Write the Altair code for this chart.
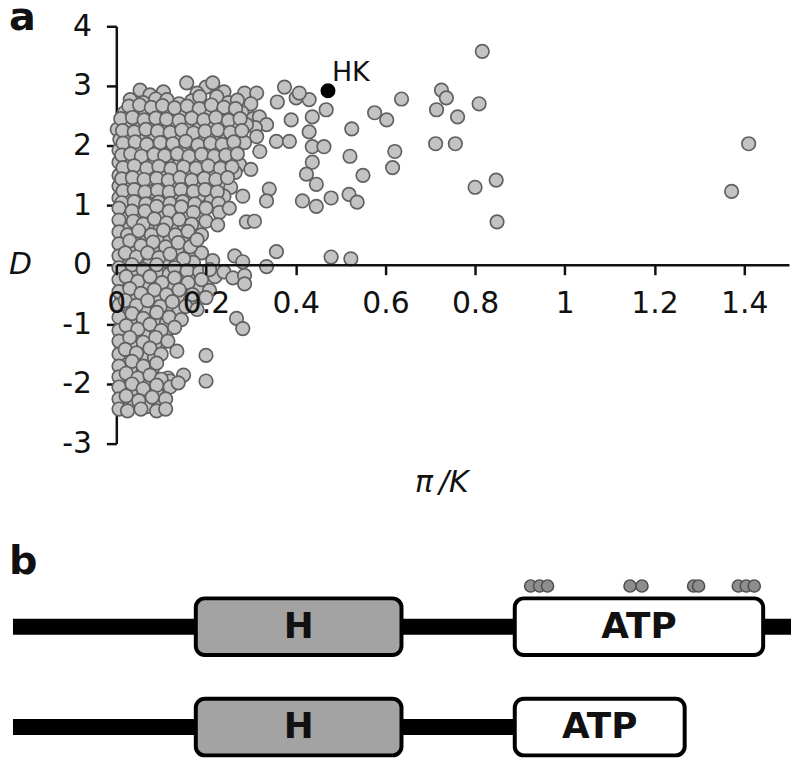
import altair as alt
import pandas as pd

# ---------------- panel a data (pi/K, D) ----------------
cloud_top = [
    (0.157, 3.05), (0.200, 2.98), (0.215, 3.05), (0.375, 2.98),
    (0.053, 2.93), (0.075, 2.85), (0.105, 2.90), (0.180, 2.88), (0.240, 2.90), (0.286, 2.88),
    (0.313, 2.88), (0.401, 2.80), (0.359, 2.73),
    (0.031, 2.77), (0.060, 2.72), (0.088, 2.78), (0.113, 2.77), (0.140, 2.70), (0.168, 2.75),
    (0.186, 2.82), (0.224, 2.82), (0.250, 2.72), (0.270, 2.76), (0.300, 2.70),
    (0.018, 2.55), (0.040, 2.60), (0.065, 2.52), (0.090, 2.60), (0.118, 2.55), (0.145, 2.50),
    (0.170, 2.58), (0.198, 2.52), (0.225, 2.60), (0.255, 2.50), (0.280, 2.55), (0.305, 2.45),
    (0.319, 2.48), (0.335, 2.35), (0.310, 2.30),
    (0.002, 2.27), (0.025, 2.38), (0.050, 2.32), (0.078, 2.40), (0.100, 2.30), (0.130, 2.38),
    (0.158, 2.30), (0.183, 2.40), (0.210, 2.33), (0.238, 2.38), (0.265, 2.30), (0.290, 2.35),
    (0.008, 2.10), (0.030, 2.18), (0.058, 2.12), (0.085, 2.20), (0.112, 2.10), (0.140, 2.17),
    (0.168, 2.12), (0.190, 2.05), (0.220, 2.15), (0.245, 2.10), (0.272, 2.18), (0.286, 2.05),
    (0.313, 2.15),
    (0.006, 1.92), (0.022, 2.00), (0.045, 1.95), (0.070, 1.88), (0.095, 1.98), (0.122, 1.90),
    (0.150, 1.97), (0.178, 1.88), (0.205, 1.95), (0.232, 1.90), (0.260, 1.96), (0.320, 1.90),
    (0.006, 1.72), (0.035, 1.78), (0.075, 1.85), (0.060, 1.70), (0.088, 1.75), (0.115, 1.68),
    (0.142, 1.76), (0.170, 1.70), (0.198, 1.78), (0.225, 1.70), (0.250, 1.75), (0.275, 1.68),
    (0.006, 1.50), (0.025, 1.58), (0.050, 1.55), (0.082, 1.52), (0.105, 1.60), (0.130, 1.50),
    (0.158, 1.57), (0.185, 1.50), (0.212, 1.58), (0.240, 1.50), (0.265, 1.55), (0.300, 1.60),
    (0.006, 1.32), (0.030, 1.38), (0.047, 1.30), (0.070, 1.35), (0.095, 1.28), (0.120, 1.36),
    (0.148, 1.30), (0.175, 1.37), (0.200, 1.28), (0.228, 1.35), (0.255, 1.30),
    (0.006, 1.12), (0.025, 1.18), (0.055, 1.12), (0.082, 1.23), (0.105, 1.10), (0.130, 1.18),
    (0.158, 1.10), (0.185, 1.16), (0.212, 1.08), (0.240, 1.15), (0.282, 1.15),
]

cloud_mid = [
    (0.006, 0.95), (0.035, 0.90), (0.064, 0.90), (0.090, 0.98), (0.118, 0.90), (0.145, 0.97),
    (0.172, 0.88), (0.200, 0.95), (0.230, 0.88), (0.252, 0.95),
    (0.006, 0.75), (0.038, 0.73), (0.060, 0.68), (0.085, 0.77), (0.112, 0.70), (0.140, 0.76),
    (0.168, 0.68), (0.200, 0.73), (0.226, 0.67),
    (0.006, 0.55), (0.025, 0.50), (0.050, 0.57), (0.078, 0.50), (0.105, 0.58), (0.132, 0.50),
    (0.160, 0.56), (0.190, 0.50),
    (0.006, 0.35), (0.030, 0.40), (0.055, 0.32), (0.082, 0.38), (0.110, 0.30), (0.138, 0.37),
    (0.165, 0.30), (0.180, 0.42),
    (0.006, 0.15), (0.020, 0.20), (0.045, 0.13), (0.070, 0.20), (0.095, 0.12), (0.120, 0.18),
    (0.150, 0.10), (0.215, 0.07), (0.264, 0.15),
    (0.006, -0.05), (0.035, 0.00), (0.060, -0.08), (0.090, 0.00), (0.130, -0.05), (0.158, -0.10),
    (0.186, -0.12), (0.208, -0.08), (0.240, -0.12),
    (0.006, -0.25), (0.022, -0.20), (0.048, -0.28), (0.075, -0.20), (0.102, -0.30), (0.130, -0.22),
    (0.160, -0.30), (0.190, -0.25), (0.260, -0.22), (0.286, -0.18), (0.286, -0.32), (0.208, -0.43),
    (0.006, -0.45), (0.030, -0.40), (0.055, -0.48), (0.085, -0.42), (0.112, -0.50), (0.140, -0.42),
    (0.170, -0.50), (0.200, -0.55),
    (0.006, -0.68), (0.020, -0.60), (0.045, -0.68), (0.070, -0.60), (0.098, -0.70), (0.125, -0.62),
    (0.155, -0.70), (0.180, -0.75),
    (0.006, -0.88), (0.035, -0.82), (0.060, -0.90), (0.090, -0.80), (0.118, -0.88), (0.145, -0.92),
    (0.268, -0.90),
]

cloud_low = [
    (0.006, -1.10), (0.022, -1.02), (0.048, -1.08), (0.075, -1.00), (0.100, -1.10), (0.130, -1.05),
    (0.282, -1.07),
    (0.006, -1.28), (0.030, -1.22), (0.060, -1.30), (0.088, -1.22), (0.115, -1.28),
    (0.006, -1.50), (0.020, -1.42), (0.045, -1.48), (0.075, -1.40), (0.100, -1.50), (0.135, -1.45),
    (0.006, -1.70), (0.035, -1.62), (0.060, -1.70), (0.090, -1.65), (0.200, -1.52),
    (0.006, -1.88), (0.022, -1.82), (0.048, -1.90), (0.075, -1.85), (0.100, -1.92), (0.150, -1.85),
    (0.006, -2.05), (0.035, -2.00), (0.060, -2.08), (0.090, -2.02), (0.120, -2.05), (0.138, -1.98),
    (0.200, -1.95),
    (0.006, -2.25), (0.022, -2.20), (0.050, -2.28), (0.080, -2.22), (0.110, -2.25),
    (0.006, -2.42), (0.025, -2.45), (0.055, -2.42), (0.090, -2.45), (0.110, -2.42),
]

cloud_fill = [
    (0.028, 2.66), (0.052, 2.68), (0.078, 2.64), (0.103, 2.67), (0.130, 2.63), (0.158, 2.66),
    (0.185, 2.62), (0.212, 2.68), (0.240, 2.64), (0.266, 2.62),
    (0.010, 2.45), (0.036, 2.47), (0.062, 2.43), (0.088, 2.46), (0.112, 2.44), (0.140, 2.42),
    (0.168, 2.46), (0.195, 2.43), (0.222, 2.47), (0.250, 2.42), (0.276, 2.45),
    (0.014, 2.25), (0.040, 2.23), (0.066, 2.27), (0.092, 2.24), (0.120, 2.22), (0.146, 2.26),
    (0.172, 2.21), (0.198, 2.24), (0.226, 2.26), (0.254, 2.22), (0.280, 2.25),
    (0.015, 2.04), (0.042, 2.06), (0.068, 2.02), (0.098, 2.05), (0.126, 2.03), (0.155, 2.07),
    (0.182, 2.01), (0.210, 2.04), (0.236, 2.02), (0.262, 2.06),
    (0.012, 1.84), (0.032, 1.86), (0.056, 1.82), (0.084, 1.85), (0.108, 1.83), (0.136, 1.86),
    (0.162, 1.82), (0.190, 1.85), (0.218, 1.82), (0.244, 1.84), (0.270, 1.86),
    (0.015, 1.63), (0.040, 1.66), (0.068, 1.62), (0.095, 1.65), (0.122, 1.61), (0.150, 1.64),
    (0.178, 1.62), (0.205, 1.66), (0.232, 1.62), (0.258, 1.64),
    (0.012, 1.44), (0.036, 1.46), (0.062, 1.43), (0.090, 1.45), (0.116, 1.42), (0.142, 1.46),
    (0.168, 1.42), (0.196, 1.45), (0.222, 1.43), (0.248, 1.46),
    (0.015, 1.24), (0.040, 1.26), (0.064, 1.22), (0.092, 1.25), (0.118, 1.22), (0.144, 1.26),
    (0.172, 1.23), (0.198, 1.26), (0.225, 1.22),
    (0.012, 1.04), (0.040, 1.06), (0.066, 1.02), (0.094, 1.05), (0.120, 1.03), (0.148, 1.06),
    (0.175, 1.02), (0.228, 1.03),
    (0.015, 0.84), (0.044, 0.86), (0.072, 0.82), (0.100, 0.85), (0.128, 0.83), (0.156, 0.86),
    (0.185, 0.82),
    (0.012, 0.64), (0.030, 0.62), (0.050, 0.66), (0.074, 0.62), (0.098, 0.65), (0.124, 0.62),
    (0.152, 0.66), (0.180, 0.62),
    (0.015, 0.45), (0.040, 0.47), (0.066, 0.43), (0.094, 0.46), (0.120, 0.42), (0.150, 0.46),
    (0.176, 0.44),
    (0.012, 0.25), (0.036, 0.28), (0.060, 0.24), (0.086, 0.27), (0.112, 0.23), (0.140, 0.26),
    (0.165, 0.22), (0.190, 0.20),
    (0.015, 0.05), (0.048, 0.07), (0.075, 0.03), (0.105, 0.06), (0.140, 0.02), (0.172, 0.04),
    (0.012, -0.15), (0.035, -0.13), (0.062, -0.17), (0.090, -0.14), (0.118, -0.16),
    (0.145, -0.13), (0.175, -0.18), (0.220, -0.20),
    (0.015, -0.35), (0.040, -0.33), (0.068, -0.37), (0.094, -0.34), (0.122, -0.36),
    (0.150, -0.33), (0.180, -0.38),
    (0.012, -0.55), (0.038, -0.57), (0.062, -0.53), (0.088, -0.56), (0.115, -0.54),
    (0.142, -0.57), (0.165, -0.60),
    (0.015, -0.76), (0.040, -0.73), (0.065, -0.77), (0.092, -0.74), (0.118, -0.76), (0.140, -0.78),
    (0.012, -0.96), (0.035, -0.93), (0.060, -0.98), (0.088, -0.94), (0.112, -0.97),
    (0.015, -1.16), (0.040, -1.14), (0.066, -1.18), (0.090, -1.15), (0.110, -1.18),
    (0.012, -1.36), (0.036, -1.33), (0.060, -1.38), (0.086, -1.34),
    (0.015, -1.56), (0.038, -1.53), (0.062, -1.58), (0.085, -1.55),
    (0.012, -1.76), (0.036, -1.73), (0.060, -1.78), (0.080, -1.75), (0.115, -1.90),
    (0.015, -1.96), (0.040, -1.93), (0.066, -1.98), (0.090, -1.95), (0.120, -1.95),
    (0.012, -2.16), (0.036, -2.13), (0.062, -2.18), (0.090, -2.15),
    (0.015, -2.36), (0.040, -2.33), (0.068, -2.38), (0.095, -2.36),
]

sparse = [
    (0.816, 3.58), (0.725, 2.93), (0.736, 2.80), (0.714, 2.60), (0.761, 2.48), (0.712, 2.03),
    (0.756, 2.03), (0.809, 2.70), (0.636, 2.78), (0.576, 2.55), (0.603, 2.43), (0.525, 2.28),
    (0.521, 1.82), (0.550, 1.50), (0.621, 1.90), (0.616, 1.63), (0.800, 1.30), (0.847, 1.42),
    (0.849, 0.72), (1.410, 2.03), (1.372, 1.23),
    (0.479, 1.12), (0.519, 1.18), (0.537, 1.05), (0.446, 0.98), (0.415, 1.07), (0.479, 0.13),
    (0.523, 0.10),
    (0.468, 2.60), (0.430, 2.77), (0.408, 2.88), (0.437, 2.48), (0.430, 2.23), (0.437, 1.98),
    (0.463, 1.98), (0.437, 1.72), (0.424, 1.52), (0.446, 1.35),
    (0.390, 2.43), (0.357, 2.07), (0.386, 2.07), (0.341, 1.27), (0.335, 1.07), (0.290, 0.72),
    (0.308, 0.73), (0.357, 0.22), (0.335, -0.03), (0.282, 0.05),
]

hk_pk = [0.472]
hk_d = [2.92]
hk_label = ["HK"]

x_ticks = [0, 0.2, 0.4, 0.6, 0.8, 1, 1.2, 1.4]
y_ticks = [-3, -2, -1, 0, 1, 2, 3, 4]

# ---------------- panel b data (protein diagram, residue-like units) ----------------
rows = ["full", "short"]
backbone_start = [0, 0]
backbone_end = [783, 505]
dom_row = ["full", "full", "short", "short"]
dom_name = ["H", "ATP", "H", "ATP"]
dom_start = [184, 505, 184, 505]
dom_end = [391, 755, 391, 676]
site_pos = [521, 530, 538, 621, 633, 685, 690, 730, 738, 746]

# ---------------- build ----------------
FONT = "DejaVu Sans"
INK = "#111111"

pts = pd.DataFrame(cloud_top + cloud_fill + cloud_mid + cloud_low + sparse, columns=["pk", "d"])
hk_df = pd.DataFrame({"pk": hk_pk, "d": hk_d, "label": hk_label})

xs = alt.Scale(domain=[0, 1.5], nice=False, zero=False)
ys = alt.Scale(domain=[-3, 4], nice=False, zero=False)

x_axis = alt.Axis(
    values=x_ticks, labelExpr="'' + datum.value", offset=-180, grid=False, zindex=1,
    domainColor=INK, domainWidth=2.5, tickColor=INK, tickWidth=2.5, tickSize=10,
    labelFont=FONT, labelFontSize=30, labelColor=INK, labelPadding=14,
    labelOverlap=False, labelFlush=False,
    title="\u03c0\u2009/K", titleFont=FONT, titleFontSize=30, titleFontStyle="italic",
    titleFontWeight="normal", titleColor=INK, titleX=327, titleY=219,
    titleBaseline="middle", titleAlign="center",
)
y_axis = alt.Axis(
    values=y_ticks, labelExpr="'' + datum.value", grid=False,
    domainColor=INK, domainWidth=2.5, tickColor=INK, tickWidth=2.5, tickSize=10,
    labelFont=FONT, labelFontSize=30, labelColor=INK, labelPadding=15,
    labelOverlap=False, labelFlush=False,
    title="D", titleFont=FONT, titleFontSize=30, titleFontStyle="italic",
    titleFontWeight="normal", titleColor=INK, titleAngle=0, titleX=-97, titleY=240,
    titleBaseline="middle", titleAlign="center",
)

scatter = alt.Chart(pts).mark_point(
    shape="circle", filled=True, size=185, fill="#c3c3c3", stroke="#606060",
    strokeWidth=1.7, opacity=1,
).encode(
    x=alt.X("pk:Q", scale=xs, axis=x_axis),
    y=alt.Y("d:Q", scale=ys, axis=y_axis),
)
hk_point = alt.Chart(hk_df).mark_point(
    shape="circle", filled=True, size=170, fill="#000000", stroke="#000000", opacity=1,
).encode(x=alt.X("pk:Q", scale=xs), y=alt.Y("d:Q", scale=ys))
hk_text = alt.Chart(hk_df).mark_text(
    font=FONT, fontSize=27, color=INK, align="left", baseline="middle", dx=4, dy=-18,
).encode(x=alt.X("pk:Q", scale=xs), y=alt.Y("d:Q", scale=ys), text="label:N")

panel_a = alt.layer(scatter, hk_point, hk_text).properties(
    width=677, height=420,
    title=alt.TitleParams("a", anchor="start", frame="group", dx=-108, dy=6, offset=-53,
                          fontSize=40, fontWeight="bold", font=FONT, color=INK,
                          baseline="alphabetic"),
)

backbone_df = pd.DataFrame({"row": rows, "start": backbone_start, "end": backbone_end})
domain_df = pd.DataFrame({"row": dom_row, "name": dom_name, "start": dom_start, "end": dom_end})
domain_df["mid"] = (domain_df["start"] + domain_df["end"]) / 2
sites_df = pd.DataFrame({"row": ["full"] * len(site_pos), "pos": site_pos})

bx = alt.Scale(domain=[104, 781], nice=False, zero=False)
by = alt.Scale(domain=rows, paddingInner=0.5, paddingOuter=0)

backbone = alt.Chart(backbone_df).mark_bar(size=16, color="#000000").encode(
    x=alt.X("start:Q", scale=bx, axis=None), x2="end:Q",
    y=alt.Y("row:N", scale=by, axis=None),
)
boxes = alt.Chart(domain_df).mark_bar(
    size=57, cornerRadius=9, stroke="#000000", strokeWidth=4,
).encode(
    x=alt.X("start:Q", scale=bx, axis=None), x2="end:Q",
    y=alt.Y("row:N", scale=by, axis=None),
    fill=alt.Fill("name:N", scale=alt.Scale(domain=["H", "ATP"], range=["#a3a3a3", "#ffffff"]),
                  legend=None),
)
labels = alt.Chart(domain_df).mark_text(
    font=FONT, fontSize=36, fontWeight="bold", color=INK, baseline="middle",
).encode(
    x=alt.X("mid:Q", scale=bx, axis=None),
    y=alt.Y("row:N", scale=by, axis=None),
    text="name:N",
)
sites = alt.Chart(sites_df).mark_point(
    shape="circle", filled=True, size=150, fill="#8e8e8e", stroke="#4d4d4d",
    strokeWidth=1.5, opacity=1, yOffset=-41,
).encode(
    x=alt.X("pos:Q", scale=bx, axis=None),
    y=alt.Y("row:N", scale=by, axis=None),
)

panel_b = alt.layer(backbone, boxes, labels, sites).properties(
    width=677, height=151.5,
    title=alt.TitleParams("b", anchor="start", frame="group", dx=-108, offset=-37,
                          fontSize=40, fontWeight="bold", font=FONT, color=INK,
                          baseline="alphabetic"),
)

chart = alt.vconcat(panel_a, panel_b, spacing=45).properties(
    padding={"left": 0, "right": 0, "top": -12, "bottom": 0},
).configure_view(strokeOpacity=0)

chart.save("out.html", embed_options={"renderer": "svg", "actions": False})
